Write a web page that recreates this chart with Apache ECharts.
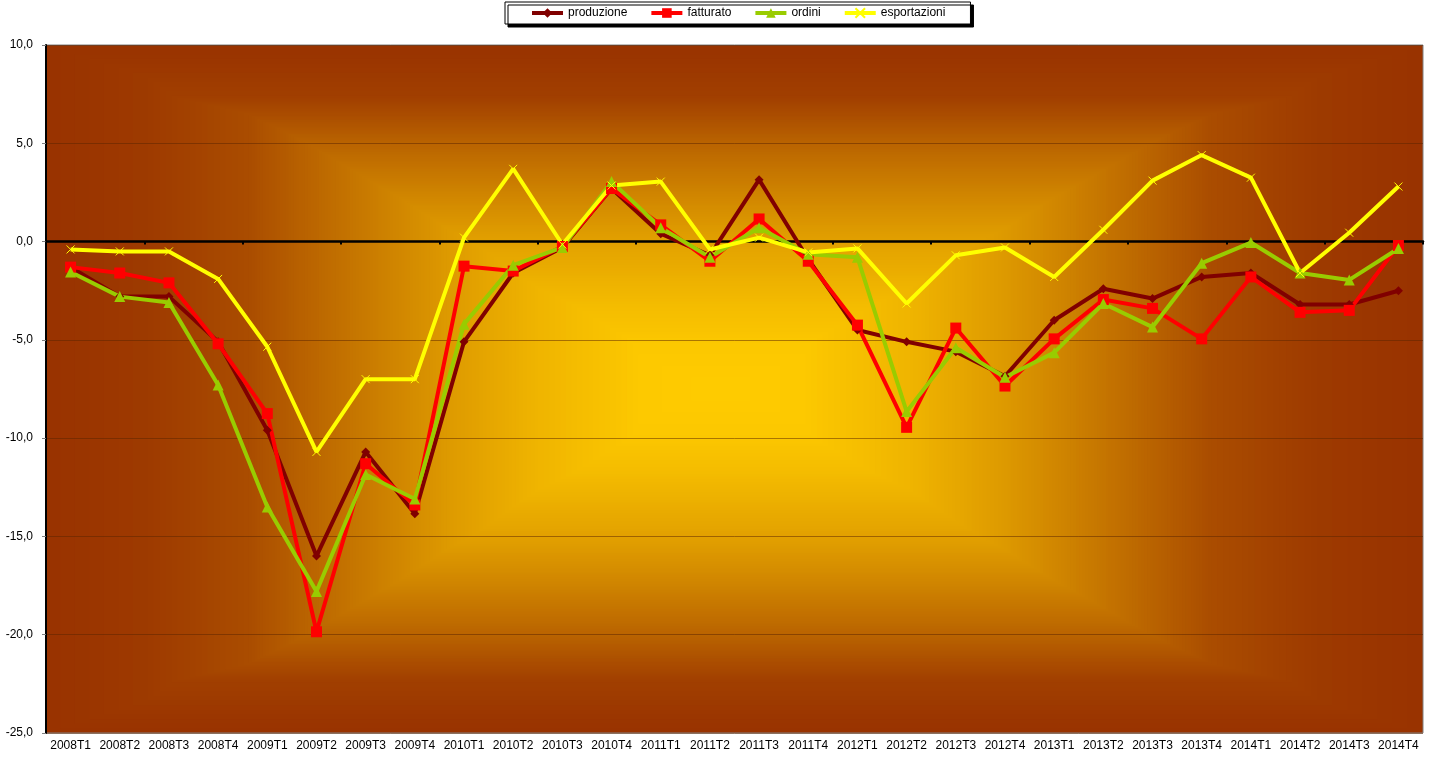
<!DOCTYPE html>
<html>
<head>
<meta charset="utf-8">
<script src="https://cdn.jsdelivr.net/npm/echarts@6/dist/echarts.min.js"></script>
<style>
  html, body { margin: 0; padding: 0; background: #fff; }
  #main { width: 1437px; height: 760px; }
</style>
</head>
<body>
<div id="main"></div>
<script>
var categories = [
  '2008T1', '2008T2', '2008T3', '2008T4', '2009T1', '2009T2', '2009T3', '2009T4',
  '2010T1', '2010T2', '2010T3', '2010T4', '2011T1', '2011T2', '2011T3', '2011T4',
  '2012T1', '2012T2', '2012T3', '2012T4', '2013T1', '2013T2', '2013T3', '2013T4',
  '2014T1', '2014T2', '2014T3', '2014T4'
];
var produzione = [
  -1.3, -2.8, -2.8, -5.1, -9.6, -16.0, -10.7, -13.85,
  -5.1, -1.6, -0.3, 2.7, 0.4, -0.7, 3.15, -0.9,
  -4.5, -5.1, -5.6, -6.85, -4.0, -2.4, -2.9, -1.8,
  -1.6, -3.2, -3.2, -2.5
];
var fatturato = [
  -1.3, -1.6, -2.1, -5.2, -8.75, -19.85, -11.3, -13.4,
  -1.25, -1.5, -0.25, 2.7, 0.85, -1.0, 1.15, -1.0,
  -4.25, -9.45, -4.4, -7.35, -4.95, -2.95, -3.4, -4.95,
  -1.8, -3.6, -3.5, -0.2
];
var ordini = [
  -1.55, -2.8, -3.1, -7.3, -13.5, -17.8, -11.85, -13.1,
  -4.2, -1.2, -0.3, 3.05, 0.7, -0.8, 0.7, -0.65,
  -0.8, -8.65, -5.4, -6.9, -5.65, -3.15, -4.35, -1.1,
  -0.05, -1.6, -1.95, -0.35
];
var esportazioni = [
  -0.4, -0.5, -0.5, -1.9, -5.35, -10.7, -7.0, -7.0,
  0.2, 3.7, -0.15, 2.85, 3.05, -0.4, 0.2, -0.55,
  -0.35, -3.15, -0.7, -0.3, -1.8, 0.6, 3.1, 4.4,
  3.25, -1.6, 0.45, 2.8
];

var dom = document.getElementById('main');
var myChart = echarts.init(dom, null, { renderer: 'canvas' });

// plot area, in pixels
var L = 46, T = 45, R = 1423, B = 733;
var CX = 720, CY = 389;

// background: "rectangle from centre" gradient, built as nested rectangles.
// level t: 0 = edge colour, 1 = centre colour; fraction of the way from edge to centre per level
var levelT = [0, 0.05, 0.17, 0.41, 0.68, 0.85, 0.98, 1];
var hFrac =  [0, 0.15, 0.30, 0.44, 0.60, 0.73, 0.88, 1];
var vT =     [0, 0.08, 0.32, 0.56, 0.72, 0.89, 0.97, 1];
var vFrac =  [0, 0.15, 0.285, 0.45, 0.57, 0.75, 0.86, 1];
function interp(xs, ys, x) {
  for (var i = 1; i < xs.length; i++) {
    if (x <= xs[i]) {
      var k = (x - xs[i - 1]) / (xs[i] - xs[i - 1] || 1);
      return ys[i - 1] + k * (ys[i] - ys[i - 1]);
    }
  }
  return ys[ys.length - 1];
}
function mix(t) {
  var r = Math.round(153 + t * (255 - 153));
  var g = Math.round(51 + t * (204 - 51));
  return 'rgb(' + r + ',' + g + ',0)';
}
var bg = [];
var N = 140;
for (var i = 0; i <= N; i++) {
  var t = i / N;
  var fh = interp(levelT, hFrac, t);
  var fv = interp(vT, vFrac, t);
  var x0 = L + fh * (CX - L), x1 = R - fh * (R - CX);
  var y0 = T + fv * (CY - T), y1 = B - fv * (B - CY);
  if (x1 - x0 < 1) { x0 = CX - 0.5; x1 = CX + 0.5; }
  if (y1 - y0 < 1) { y0 = CY - 0.5; y1 = CY + 0.5; }
  bg.push({
    type: 'rect', silent: true, z: -100 + i * 0.5,
    shape: { x: x0, y: y0, width: x1 - x0, height: y1 - y0 },
    style: { fill: mix(t) }
  });
}

var fmt = function (v) { return v.toFixed(1).replace('.', ','); };

var option = {
  backgroundColor: '#ffffff',
  textStyle: { fontFamily: 'Liberation Sans, Arial, sans-serif' },
  graphic: bg,
  legend: {
    top: 2,
    left: 505,
    padding: [5, 25],
    itemGap: 22,
    itemWidth: 31,
    itemHeight: 12,
    backgroundColor: '#ffffff',
    borderColor: '#000000',
    borderWidth: 1,
    borderRadius: 0,
    shadowColor: '#000000',
    shadowBlur: 0,
    shadowOffsetX: 3,
    shadowOffsetY: 3,
    lineStyle: { width: 4 },
    textStyle: { fontSize: 12, color: '#000', fontFamily: 'Liberation Sans, Arial, sans-serif' },
    data: ['produzione', 'fatturato', 'ordini', 'esportazioni']
  },
  grid: {
    left: L,
    top: T,
    right: 1437 - R,
    bottom: 760 - B,
    outerBoundsMode: 'none',
    show: true,
    backgroundColor: 'transparent',
    borderColor: '#808080',
    borderWidth: 1
  },
  xAxis: [
    {
      type: 'category',
      data: categories,
      position: 'bottom',
      boundaryGap: true,
      axisLine: { show: false, onZero: false },
      axisTick: { show: false },
      splitLine: { show: false },
      axisLabel: { interval: 0, fontSize: 12, color: '#000', margin: 7 }
    },
    {
      type: 'category',
      data: categories,
      position: 'bottom',
      boundaryGap: true,
      axisLine: { show: true, onZero: true, lineStyle: { color: '#000', width: 2.5 } },
      axisTick: { show: true, inside: false, length: 3, lineStyle: { color: '#000', width: 2 } },
      axisLabel: { show: false },
      splitLine: { show: false }
    }
  ],
  yAxis: {
    type: 'value',
    min: -25,
    max: 10,
    interval: 5,
    axisLine: { show: true, lineStyle: { color: '#000', width: 2 } },
    axisTick: { show: true, length: 4, lineStyle: { color: '#808080' } },
    axisLabel: { fontSize: 12, color: '#000', margin: 13, formatter: fmt },
    splitLine: { show: true, lineStyle: { color: 'rgba(90,35,0,0.5)', width: 1 } }
  },
  series: [
    {
      name: 'produzione',
      type: 'line',
      xAxisIndex: 0,
      data: produzione,
      color: '#800000',
      symbol: 'diamond',
      symbolSize: 9,
      lineStyle: { width: 4 },
      animation: false
    },
    {
      name: 'fatturato',
      type: 'line',
      xAxisIndex: 0,
      data: fatturato,
      color: '#FF0000',
      symbol: 'rect',
      symbolSize: 11,
      lineStyle: { width: 4 },
      animation: false
    },
    {
      name: 'ordini',
      type: 'line',
      xAxisIndex: 0,
      data: ordini,
      color: '#99CC00',
      symbol: 'triangle',
      symbolSize: 11,
      lineStyle: { width: 4 },
      animation: false
    },
    {
      name: 'esportazioni',
      type: 'line',
      xAxisIndex: 0,
      data: esportazioni,
      color: '#FFFF00',
      symbol: 'path://M0,0L10,10M10,0L0,10',
      symbolSize: 8,
      itemStyle: { borderColor: '#FFFF00', borderWidth: 1 },
      lineStyle: { width: 4 },
      animation: false
    }
  ]
};

if (option && typeof option === 'object') {
  myChart.setOption(option);
}

window.addEventListener('resize', myChart.resize);
</script>
</body>
</html>
